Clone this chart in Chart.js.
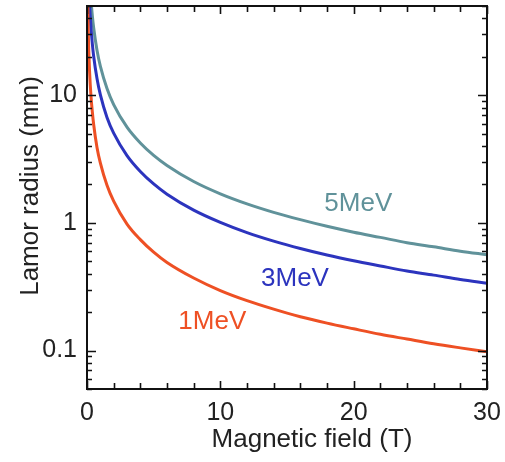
<!DOCTYPE html>
<html>
<head>
<meta charset="utf-8">
<script src="https://cdn.jsdelivr.net/npm/chart.js@4/dist/chart.umd.min.js"></script>
<style>
html,body{margin:0;padding:0;background:#fff;}
#wrap{width:505px;height:462px;position:relative;}
</style>
</head>
<body>
<div id="wrap"><canvas id="larmorChart"></canvas></div>
<script>
// values
const fieldT=[0.05,0.1,0.2,0.3,0.4,0.5,0.75,1,1.5,2,3,4,5,6,8,10,12,14,16,18,20,22,24,26,28,30];
const r1MeV=[59,29.5,14.8,9.8,7.4,5.9,3.9,2.95,1.97,1.48,0.98,0.74,0.59,0.49,0.37,0.295,0.246,0.211,0.184,0.164,0.148,0.134,0.123,0.113,0.105,0.098];
const r3MeV=[202,101,50.5,33.7,25.3,20.2,13.5,10.1,6.7,5.05,3.37,2.53,2.02,1.68,1.26,1.01,0.84,0.72,0.63,0.56,0.505,0.46,0.42,0.39,0.36,0.337];
const r5MeV=[338,169,84.5,56,42,33.8,22.5,16.9,11.3,8.45,5.63,4.23,3.38,2.82,2.11,1.69,1.41,1.21,1.06,0.94,0.845,0.77,0.70,0.65,0.60,0.563];
const seriesNames=['1MeV','3MeV','5MeV'];
const seriesColors=['rgb(238,80,36)','rgb(44,52,190)','rgb(96,146,154)'];
const labelX=[9.4,15.6,20.35];
const labelY=[0.169,0.365,1.41];
const xTickLabels=[0,10,20,30];
const yTickLabels=[0.1,1,10];

const FONT='"Liberation Sans", Arial, sans-serif';
const toPts=arr=>fieldT.map((b,i)=>({x:b,y:arr[i]}));

// frame, inward ticks, curve labels and axis titles
const decorPlugin={
  id:'decor',
  afterDraw(chart){
    const c=chart.ctx, a=chart.chartArea, sx=chart.scales.x, sy=chart.scales.y;
    c.save();
    c.strokeStyle='#111'; c.lineWidth=2;
    c.strokeRect(a.left,a.top,a.right-a.left,a.bottom-a.top);
    c.lineWidth=1.6;
    c.beginPath();
    for(let v=0;v<=30;v+=2){
      const px=Math.round(sx.getPixelForValue(v))+0.5, len=v%10===0?8:6;
      c.moveTo(px,a.bottom); c.lineTo(px,a.bottom-len);
      c.moveTo(px,a.top); c.lineTo(px,a.top+len);
    }
    for(let d=0.01;d<=10;d*=10){
      for(let m=1;m<=9;m++){
        const v=m*d; if(v<sy.min||v>sy.max) continue;
        const py=Math.round(sy.getPixelForValue(v))+0.5, len=m===1?9:5;
        c.moveTo(a.left,py); c.lineTo(a.left+len,py);
        c.moveTo(a.right,py); c.lineTo(a.right-len,py);
      }
    }
    c.stroke();
    c.font='26px '+FONT; c.textAlign='center'; c.textBaseline='middle';
    seriesNames.forEach((n,i)=>{
      c.fillStyle=seriesColors[i];
      c.fillText(n,sx.getPixelForValue(labelX[i]),sy.getPixelForValue(labelY[i]));
    });
    c.fillStyle='#222';
    c.fillText('Magnetic field (T)',312,440);
    c.translate(31,186); c.rotate(-Math.PI/2);
    c.fillText('Lamor radius (mm)',0,0);
    c.restore();
  }
};

new Chart(document.getElementById('larmorChart'),{
  type:'line',
  data:{datasets:[r1MeV,r3MeV,r5MeV].map((arr,i)=>({
    label:seriesNames[i],data:toPts(arr),borderColor:seriesColors[i],
    borderWidth:3,pointRadius:0,fill:false,cubicInterpolationMode:'monotone'
  }))},
  options:{
    responsive:true,maintainAspectRatio:false,animation:false,
    layout:{padding:{top:6,right:18,left:0,bottom:0}},
    plugins:{legend:{display:false},tooltip:{enabled:false}},
    scales:{
      x:{type:'linear',min:0,max:30,
        afterBuildTicks:s=>{s.ticks=xTickLabels.map(v=>({value:v}));},
        afterFit:s=>{s.height=73;s.paddingLeft=0;s.paddingRight=0;},
        ticks:{font:{size:25,family:FONT},color:'#222',padding:1,maxRotation:0},
        grid:{display:false},border:{display:false}},
      y:{type:'logarithmic',min:0.05,max:50,
        afterBuildTicks:s=>{s.ticks=yTickLabels.map(v=>({value:v}));},
        afterFit:s=>{s.width=87;s.paddingTop=0;s.paddingBottom=0;},
        ticks:{font:{size:25,family:FONT},color:'#222',padding:2,callback:v=>String(v)},
        grid:{display:false},border:{display:false}}
    }
  },
  plugins:[decorPlugin]
});
</script>
</body>
</html>
